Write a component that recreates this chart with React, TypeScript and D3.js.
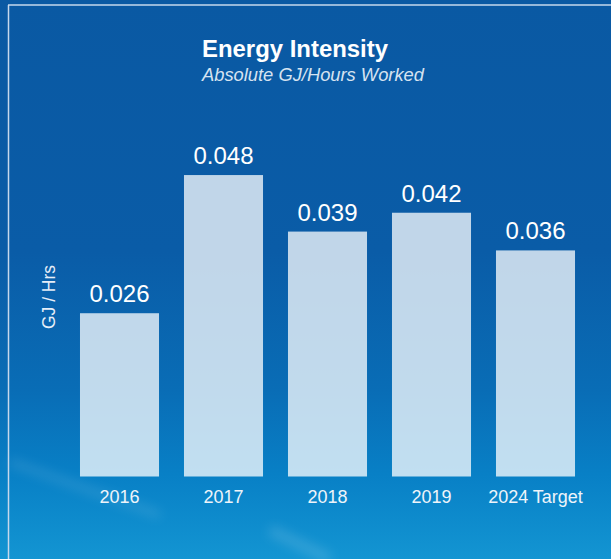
import React from "react";
import * as d3 from "d3";

const categories = ["2016", "2017", "2018", "2019", "2024 Target"];
const values = [0.026, 0.048, 0.039, 0.042, 0.036];
const valueLabels = ["0.026", "0.048", "0.039", "0.042", "0.036"];
const title = "Energy Intensity";
const subtitle = "Absolute GJ/Hours Worked";
const yLabel = "GJ / Hrs";

const W = 611;
const H = 559;
const FONT = "'Liberation Sans', Arial, Helvetica, sans-serif";

export default function App() {
  const x = d3
    .scaleBand<string>()
    .domain(categories)
    .range([67.5, 587.5])
    .paddingInner(0.24)
    .paddingOuter(0.12);
  const baseY = 476.5;
  const y = d3.scaleLinear().domain([0, 0.05]).range([baseY, baseY - 314]);

  return (
    <svg
      width={W}
      height={H}
      style={{ position: "absolute", left: 0, top: 0, display: "block" }}
    >
      <defs>
        <linearGradient id="bg" x1="0" y1="0" x2="0" y2="1">
          <stop offset="0%" stopColor="#0a59a3" />
          <stop offset="45%" stopColor="#0a5ca7" />
          <stop offset="70%" stopColor="#096db6" />
          <stop offset="85%" stopColor="#0880c6" />
          <stop offset="100%" stopColor="#1395d2" />
        </linearGradient>
        <filter id="blur" x="-30%" y="-100%" width="160%" height="300%">
          <feGaussianBlur stdDeviation="6" />
        </filter>
      </defs>
      <rect x={0} y={0} width={W} height={H} fill="url(#bg)" />
      {/* faint cloud streaks */}
      <g filter="url(#blur)" opacity={0.15}>
        <path d="M10,462 L160,515" stroke="#ffffff" strokeWidth={6} />
        <path d="M270,530 L330,559" stroke="#ffffff" strokeWidth={10} />
      </g>
      {/* frame lines */}
      <line x1={8} y1={5} x2={W} y2={5} stroke="#c6d8ec" strokeWidth={1.5} />
      <line x1={8.5} y1={5} x2={8.5} y2={H} stroke="#c6d8ec" strokeWidth={1.5} />

      <text
        x={202}
        y={57}
        fill="#ffffff"
        fontFamily={FONT}
        fontWeight="bold"
        fontSize={23.5}
        textLength={186}
        lengthAdjust="spacingAndGlyphs"
      >
        {title}
      </text>
      <text
        x={202}
        y={81}
        fill="#d6e3f1"
        fontFamily={FONT}
        fontStyle="italic"
        fontSize={18}
        textLength={222}
        lengthAdjust="spacingAndGlyphs"
      >
        {subtitle}
      </text>

      <text
        transform={`translate(55,297) rotate(-90)`}
        textAnchor="middle"
        fill="#e6eef8"
        fontFamily={FONT}
        fontSize={17.5}
      >
        {yLabel}
      </text>

      {categories.map((c, i) => {
        const bx = x(c) as number;
        const bw = x.bandwidth();
        const top = y(values[i]);
        return (
          <g key={c}>
            <rect
              x={bx}
              y={top}
              width={bw}
              height={baseY - top}
              fill="#ffffff"
              fillOpacity={0.75}
            />
            <text
              x={bx + bw / 2}
              y={top - 11}
              textAnchor="middle"
              fill="#ffffff"
              fontFamily={FONT}
              fontSize={24}
            >
              {valueLabels[i]}
            </text>
            <text
              x={bx + bw / 2}
              y={503}
              textAnchor="middle"
              fill="#eef4fa"
              fontFamily={FONT}
              fontSize={18}
            >
              {c}
            </text>
          </g>
        );
      })}
    </svg>
  );
}
